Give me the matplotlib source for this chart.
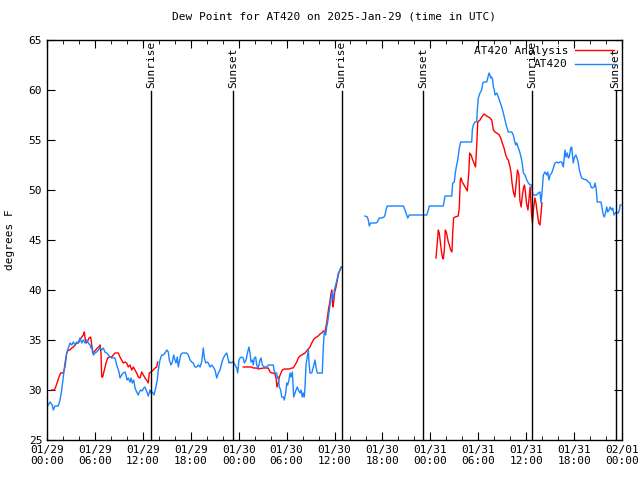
import matplotlib
matplotlib.use("Agg")
import matplotlib.pyplot as plt
import numpy as np

FONT = "DejaVu Sans Mono"
RED = "#ff0000"
BLUE = "#1a85ff"

# hours since 2025-01-29 00:00 UTC
obs_hours = [
    0.0, 0.38, 0.66, 0.79, 1.0, 1.41, 1.63, 1.84, 2.04, 2.25, 2.47, 2.67, 2.88, 3.09, 3.29,
    3.51, 3.72, 3.92, 4.13, 4.35, 4.55, 4.76, 4.97, 5.17, 5.38, 5.51, 5.67, 5.80, 6.01, 6.22,
    6.42, 6.64, 6.85, 7.05, 7.26, 7.48, 7.68, 7.89, 8.10, 8.51, 8.73, 8.85, 9.02, 9.14, 9.35,
    9.55, 9.77, 9.89, 10.02, 10.18, 10.39, 10.52, 10.68, 10.86, 11.02, 11.23, 11.43, 11.56,
    11.73, 11.93, 12.11, 12.27, 12.40, 12.56, 12.68, 12.90, 13.02, 13.19, 13.40, 13.61, 13.81,
    13.94, 14.15, 14.36, 14.56, 14.78, 14.99, 15.19, 15.31, 15.53, 15.69, 15.87, 16.03, 16.15,
    16.32, 16.44, 16.57, 16.74, 16.94, 17.19, 17.49, 17.69, 17.91, 18.12, 18.32, 18.53, 18.75,
    18.95, 19.16, 19.37, 19.57, 19.70, 19.87, 20.04, 20.20, 20.41, 20.62, 20.82, 21.04, 21.25,
    21.45, 21.66, 21.88, 22.08, 22.29, 22.50, 22.63, 22.79, 22.92, 23.04, 23.20, 23.33, 23.54,
    23.76, 23.88, 24.04, 24.17, 24.38, 24.58, 24.71, 24.92, 25.13, 25.29, 25.42, 25.55, 25.71,
    25.83, 25.96, 26.13, 26.26, 26.46, 26.67, 26.80, 26.96, 27.21, 27.51, 27.71, 28.34, 28.43,
    28.55, 28.76, 28.84, 28.96, 29.09, 29.26, 29.39, 29.59, 29.72, 29.89, 30.02, 30.14, 30.30,
    30.43, 30.55, 30.72, 30.89, 31.05, 31.18, 31.34, 31.47, 31.68, 31.81, 31.97, 32.09, 32.22,
    32.31, 32.43, 32.59, 32.72, 32.81, 32.93, 33.15, 33.35, 33.56, 33.68, 33.85, 34.47, 34.60,
    34.72, 34.90, 35.02, 35.15, 35.31, 35.44, 35.56, 35.69, 35.85, 35.98, 36.15, 36.31, 36.48,
    36.69, 36.81, 36.98,
    37.5,
    39.82, 40.11, 40.23, 40.36, 40.53, 41.20, 41.36, 41.61, 41.91, 42.20, 42.33, 42.45, 42.61,
    44.62, 44.83, 45.04, 45.17, 45.37, 47.55, 47.75, 47.87, 49.62, 49.75, 49.84, 50.68, 50.80,
    51.00, 51.13, 51.25, 51.43, 51.55, 51.63, 51.80, 53.18, 53.26, 53.38, 53.59, 53.81, 53.88,
    54.01, 54.22, 54.43, 54.56, 54.72, 55.06, 55.19, 55.35, 55.47, 55.56, 55.69, 55.81, 55.89,
    56.01, 56.10, 56.31, 56.51, 56.73, 56.94, 57.14, 57.35, 57.56, 57.77, 58.19, 58.39, 58.52,
    58.69, 58.82, 59.02, 59.23, 59.44, 59.57, 59.65, 59.86, 60.07, 60.27, 60.48, 60.69, 60.82,
    61.32, 61.52, 61.73, 61.86, 61.98, 62.07, 62.15, 62.36, 62.57, 62.70, 62.86, 62.99, 63.20,
    63.40, 63.61, 63.82, 64.02, 64.24, 64.45, 64.65, 64.86, 64.99, 65.15, 65.28, 65.40, 65.58,
    65.70, 65.83, 65.90, 66.03, 66.21, 66.33, 66.53, 66.66, 66.83, 66.95, 67.16, 67.58, 67.78,
    67.99, 68.12, 68.28, 68.50, 68.62, 68.75, 68.83, 68.91, 69.37, 69.50, 69.66, 69.79, 69.96,
    70.09, 70.21, 70.38, 70.50, 70.71, 70.84, 71.00, 71.16, 71.34, 71.54, 71.67, 71.76, 71.88,
]
obs_dewp = [
    28.3, 28.8, 28.5, 28.0, 28.4, 28.4, 29.0, 30.0, 31.3, 32.7, 33.7, 34.2, 34.7, 34.5, 34.8,
    34.5, 34.8, 34.7, 35.2, 34.7, 35.0, 34.7, 35.0, 34.7, 34.5, 34.2, 34.3, 33.5, 33.7, 33.8,
    34.0, 34.2, 34.0, 34.2, 33.8, 33.7, 33.5, 33.3, 33.2, 33.2, 32.5, 32.2, 31.8, 31.2, 31.5,
    31.7, 31.8, 31.5, 31.0, 31.2, 30.8, 31.2, 30.7, 31.0, 30.2, 29.8, 29.5, 29.8,
    30.0, 29.9, 30.2, 30.3, 30.0, 29.7, 29.4, 30.0, 29.7, 29.8, 29.5, 30.2, 31.0,
    32.0, 33.0, 33.5, 33.5, 33.7, 34.0, 33.8, 33.0, 32.5, 32.8, 33.5, 33.0, 32.7,
    33.3, 32.3, 32.8, 33.5, 33.7, 33.7, 33.7, 33.5, 33.0, 32.8, 32.7, 32.3, 32.3,
    32.5, 32.3, 32.8, 34.2, 33.2, 32.7, 32.8, 32.7, 32.3, 32.5, 32.3, 32.0, 31.2,
    31.7, 32.0, 32.7, 33.2, 33.5, 33.7, 33.3, 32.7, 32.8, 32.7, 32.8, 32.8, 32.5,
    32.2, 31.7, 33.0, 33.2, 33.3, 33.2, 32.7, 33.0, 33.8, 34.3, 33.7, 32.8, 33.0,
    32.5, 33.2, 33.3, 32.5, 32.2, 33.0, 33.2, 32.5, 32.3, 32.3, 32.5, 32.5, 32.0,
    31.7, 31.7, 31.2, 31.3, 30.3, 30.0, 29.3, 29.3, 29.0, 29.7, 30.7, 30.5, 31.0,
    31.7, 31.3, 31.8, 29.3, 29.7, 30.0, 30.3, 30.0, 29.7, 30.0, 29.3, 29.7, 29.3,
    30.3, 32.5, 33.3, 34.0, 32.7, 31.7, 31.7, 32.3, 33.0, 32.3, 31.7, 31.7, 34.3,
    35.8, 35.5, 36.3, 36.8, 37.7, 38.5, 39.2, 39.7, 39.0, 40.0, 40.5, 41.0, 41.7,
    42.0, 42.3, 42.3,
    np.nan,
    47.4, 47.3, 47.0, 46.4, 46.7, 46.7, 46.8, 47.2, 47.2, 47.3, 47.5, 48.0, 48.4,
    48.4, 48.0, 47.5, 47.2, 47.5, 47.5, 48.0, 48.4, 48.4, 49.0, 49.4, 49.4, 50.7,
    50.8, 51.7, 52.3, 53.0, 53.7, 54.2, 54.8, 54.8, 56.0, 56.5, 56.8, 56.8, 58.0,
    59.2, 59.7, 60.0, 60.7, 60.8, 60.8, 61.2, 61.7, 61.5, 61.2, 61.3, 61.0, 60.3,
    60.0, 59.5, 59.7, 59.3, 58.8, 58.3, 57.7, 57.0, 56.3, 55.8, 55.8, 55.5, 55.0,
    54.5, 54.7, 54.2, 53.7, 53.0, 52.3, 51.7, 51.5, 51.0, 50.7, 50.5, 50.5, 49.5,
    49.5, 49.7, 49.8, 48.7, 49.7, 50.7, 51.5, 51.8, 51.5, 51.8, 51.0, 51.5, 51.7,
    52.2, 52.7, 52.8, 52.7, 52.8, 52.8, 52.3, 54.0, 53.3, 53.7, 53.2, 53.3, 54.2,
    54.3, 53.3, 52.7, 53.2, 53.5, 53.3, 52.7, 52.0, 51.5, 51.2, 51.1, 51.0, 50.8,
    50.7, 50.3, 50.2, 50.3, 50.7, 50.2, 49.5, 48.8, 48.8, 48.2, 47.5, 47.3, 47.8,
    48.3, 47.8, 48.0, 48.3, 48.0, 48.2, 47.5, 47.7, 47.8, 47.7, 48.0, 48.5, 48.5,
]

ana_hours = [
    0.59, 0.91, 1.09, 1.29, 1.50, 1.72, 2.04, 2.25, 2.47, 2.67, 2.88, 3.09, 3.29, 3.51, 3.72,
    3.92, 4.13, 4.35, 4.55, 4.67, 4.85, 5.05, 5.26, 5.47, 5.60, 5.72, 5.89, 6.10, 6.30, 6.51,
    6.64, 6.76, 6.85, 6.97, 7.18, 7.39, 7.60, 7.89, 8.10, 8.30, 8.51, 8.93, 9.14, 9.35, 9.55,
    9.77, 9.98, 10.18, 10.39, 10.61, 10.81, 11.02, 11.23, 11.43, 11.65, 11.86, 12.06, 12.27,
    12.48, 12.68, 12.81, 13.02, 13.31, 13.52, 13.74, 13.86,
    19.0,
    24.58, 25.63, 25.83, 26.26, 26.46, 27.09, 27.71, 27.92, 28.14, 28.34, 28.55, 28.68, 28.80,
    28.96, 29.09, 29.30, 29.46, 29.72, 30.34, 30.64, 30.84, 31.05, 31.27, 31.47, 31.68, 31.89,
    32.09, 32.31, 32.52, 32.72, 32.93, 33.15, 33.35, 33.56, 33.77, 33.97, 34.19, 34.40, 34.60,
    34.81, 35.02, 35.15, 35.27, 35.40, 35.53, 35.65, 35.78, 35.90, 36.03, 36.19, 36.35, 36.53,
    36.69, 36.90,
    42.0,
    48.71, 48.87, 49.00, 49.12, 49.25, 49.37, 49.50, 49.62, 49.75, 49.87, 50.00, 50.12, 50.25,
    50.38, 50.55, 50.71, 50.80, 50.92, 51.09, 51.50, 51.63, 51.75, 51.84, 52.00, 52.22, 52.43,
    52.63, 52.81, 52.93, 53.10, 53.31, 53.66, 53.81, 53.94, 54.22, 54.43, 54.72, 55.06, 55.47,
    55.69, 55.89, 56.10, 56.31, 56.64, 56.81, 57.01, 57.23, 57.44, 57.64, 57.77, 57.98, 58.11,
    58.23, 58.40, 58.58, 58.75, 58.91, 59.09, 59.21, 59.37, 59.50, 59.66, 59.79, 59.92, 60.04,
    60.22, 60.34, 60.50, 60.66, 60.79, 60.91, 61.09, 61.23, 61.39, 61.57, 61.73, 61.86, 61.98,
]
ana_dewp = [
    30.0, 30.0, 30.3, 30.8, 31.3, 31.7, 31.7, 32.3, 33.7, 34.0, 34.0, 34.2, 34.3, 34.5, 34.7,
    34.7, 35.0, 35.3, 35.5, 35.8, 34.7, 34.8, 35.2, 35.3, 34.5, 33.7, 33.8, 34.0, 34.2, 34.3,
    34.5, 33.7, 31.3, 31.3, 32.0, 32.7, 33.2, 33.3, 33.3, 33.5, 33.7, 33.7, 33.3, 33.0, 32.7,
    32.8, 32.7, 32.3, 32.5, 32.0, 32.3, 32.0, 31.7, 31.3, 31.2, 31.8, 31.5, 31.2,
    31.0, 30.7, 31.7, 31.8, 32.0, 32.2, 32.3, 32.8,
    np.nan,
    32.3, 32.3, 32.2, 32.2, 32.1, 32.2, 32.2, 31.8, 31.7, 31.7, 31.6, 31.2, 30.3,
    30.7, 31.3, 31.7, 32.0, 32.1, 32.1, 32.2, 32.2, 32.5, 32.8, 33.2, 33.4, 33.5,
    33.6, 33.7, 33.9, 34.1, 34.3, 34.7, 35.0, 35.2, 35.3, 35.4, 35.6, 35.7, 35.9,
    35.8, 36.7, 37.5, 38.2, 38.7, 39.5, 40.0, 38.3, 38.8, 39.8, 40.3, 41.0, 41.7,
    42.0, 42.3,
    np.nan,
    43.2, 44.8, 46.0, 45.7, 44.8, 44.0, 43.3, 43.1, 44.0, 46.0, 45.8, 45.3, 44.8,
    44.5, 44.0, 43.8, 45.7, 47.2, 47.3, 47.4, 48.3, 51.0, 51.2, 50.8, 50.5, 50.2,
    49.9, 51.7, 53.7, 53.5, 53.0, 52.3, 54.5, 56.8, 57.0, 57.3, 57.6, 57.4, 57.2,
    57.0, 56.0, 55.8, 55.7, 55.5, 55.2, 54.7, 54.2, 53.5, 53.1, 53.0, 52.3, 51.7,
    50.7, 49.8, 49.3, 50.7, 52.0, 51.5, 49.0, 48.3, 49.3, 50.2, 50.5, 49.7, 48.7,
    48.0, 49.0, 50.3, 47.7, 46.7, 48.0, 49.2, 48.7, 47.7, 46.7, 46.5, 47.7, 48.7,
]

sunrise_hours = [13.0, 36.9, 60.75]
sunset_hours = [23.3, 47.1, 71.2]

tick_hours = list(range(0, 73, 6))
tick_labels = ["01/29\n00:00", "01/29\n06:00", "01/29\n12:00", "01/29\n18:00",
               "01/30\n00:00", "01/30\n06:00", "01/30\n12:00", "01/30\n18:00",
               "01/31\n00:00", "01/31\n06:00", "01/31\n12:00", "01/31\n18:00",
               "02/01\n00:00"]

plt.rcParams.update({"font.family": FONT, "font.size": 8})

fig = plt.figure(figsize=(6.4, 4.8), dpi=100)
ax = fig.add_axes([47/640, 40/480, 575/640, 400/480])

ax.plot(ana_hours, ana_dewp, color=RED, linewidth=1.0, label="AT420 Analysis")
ax.plot(obs_hours, obs_dewp, color=BLUE, linewidth=1.0, label="AT420")

# sunrise / sunset markers
for h in sunrise_hours:
    ax.plot([h, h], [25, 59.9], color="black", linewidth=1.0)
    ax.text(h, 60.2, "Sunrise", rotation=90, ha="center", va="bottom", fontsize=8)
for h in sunset_hours:
    ax.plot([h, h], [25, 59.9], color="black", linewidth=1.0)
    ax.text(h, 60.2, "Sunset", rotation=90, ha="center", va="bottom", fontsize=8)

ax.set_xlim(0, 72)
ax.set_ylim(25, 65)
ax.set_xticks(tick_hours)
ax.set_xticklabels(tick_labels)
ax.set_xticks(range(0, 73, 2), minor=True)
ax.set_yticks(range(25, 66, 5))
ax.tick_params(which="both", direction="in", top=True, right=True, labelsize=8)
ax.tick_params(which="major", length=6)
ax.tick_params(which="minor", length=3)
for s in ax.spines.values():
    s.set_linewidth(1.0)

ax.set_ylabel("degrees F", fontsize=8, labelpad=10)
ax.set_title("Dew Point for AT420 on 2025-Jan-29 (time in UTC)", fontsize=8, pad=15)

ax.legend(loc="upper right", bbox_to_anchor=(0.995, 1.0), frameon=False,
          markerfirst=False, fontsize=8, handlelength=3.5, handletextpad=0.6,
          labelspacing=0.35, borderaxespad=0.1)

fig.savefig("out.png", dpi=100)
